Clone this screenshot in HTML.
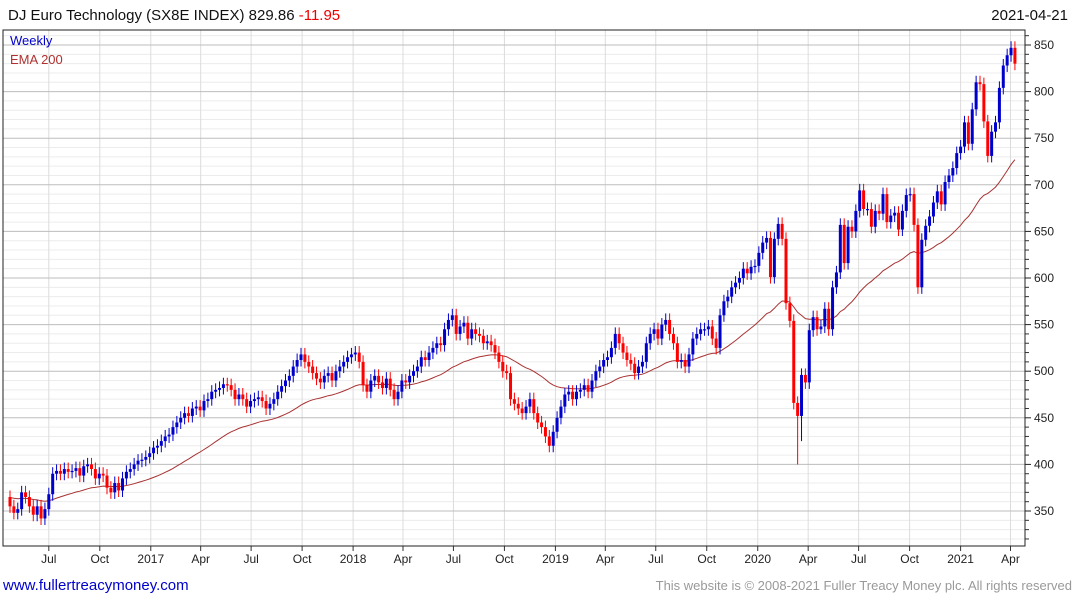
<!DOCTYPE html>
<html><head><meta charset="utf-8"><style>
body{margin:0;background:#fff;width:1075px;height:600px;overflow:hidden;font-family:"Liberation Sans",Arial,sans-serif}
svg{position:absolute;left:0;top:0}
</style></head><body>
<svg id="chart" width="1075" height="600" xmlns="http://www.w3.org/2000/svg">
<text x="8" y="20" font-size="15" fill="#111">DJ Euro Technology (SX8E INDEX) 829.86 <tspan fill="#e00">-11.95</tspan></text>
<text x="1068" y="20" font-size="15" fill="#111" text-anchor="end">2021-04-21</text>
<g id="grid"></g><g id="ema"></g><g id="candles"></g><g id="axes"></g>
<rect x="3" y="30" width="1022" height="516" fill="none" stroke="#222" stroke-width="1"/>
<text x="10" y="45" font-size="13" fill="#0000cc">Weekly</text>
<text x="10" y="64" font-size="13" fill="#b03030">EMA 200</text>
<text x="3" y="590" font-size="15" fill="#0000cc">www.fullertreacymoney.com</text>
<text x="1072" y="590" font-size="13" fill="#999" text-anchor="end">This website is © 2008-2021 Fuller Treacy Money plc. All rights reserved</text>
</svg>
<script>
const closes2016=[355,348,352,370,365,355,346,355,342,352,368,390,393,390,395,392,393,396,388,398,400,395,385,390,388,375,370,380,372,385,392,395,400,404,405,408];
const closes2017=[412,418,420,425,430,432,440,445,450,455,452,460,462,458,468,470,478,480,482,486,485,480,470,475,470,462,468,470,472,468,460,465,470,478,484,490,495,505,512,518,510,505,498,492,488,495,498,490,500,505,510,515];
const closes2018=[518,520,510,485,478,490,495,488,482,492,480,470,478,490,488,495,500,505,515,512,520,525,530,528,545,555,560,540,548,552,535,545,540,538,530,532,528,520,510,500,498,470,465,460,455,462,470,455,445,440,430,420];
const closes2019=[435,450,462,475,478,470,478,480,485,478,490,500,505,512,515,525,540,530,520,512,508,498,505,510,530,540,545,535,550,555,540,530,510,512,505,518,535,540,545,545,548,535,525,560,575,580,590,595,600,610,605,612];
const closes2020=[613,627,638,643,601,642,658,642,573,554,466,452,496,488,544,558,545,548,567,545,590,606,657,616,655,650,672,694,674,674,655,672,669,690,660,667,670,652,672,689,690,657,590,641,656,666,681,693,679,703,710,718,734,741,767,744,781,810,808,768,731,757,767,804,828,839,847,830];
const yTicks=[350,400,450,500,550,600,650,700,750,800,850];
const xTickLabels=["Jul","Oct","2017","Apr","Jul","Oct","2018","Apr","Jul","Oct","2019","Apr","Jul","Oct","2020","Apr","Jul","Oct","2021","Apr"];
const xTickDates=["2016-07-01","2016-10-01","2017-01-01","2017-04-01","2017-07-01","2017-10-01","2018-01-01","2018-04-01","2018-07-01","2018-10-01","2019-01-01","2019-04-01","2019-07-01","2019-10-01","2020-01-01","2020-04-01","2020-07-01","2020-10-01","2021-01-01","2021-04-01"];
const lowOverrides={203:400,204:425,209:540};
const emaSeed=365;

const closes=[].concat(closes2016,closes2017,closes2018,closes2019,closes2020);
const NS="http://www.w3.org/2000/svg";
const X0=10,DX=3.88,startDate=new Date("2016-04-22");
function x(i){return X0+i*DX;}
function xDate(s){return X0+((new Date(s)-startDate)/864e5/7)*DX;}
function y(v){return 45+(850-v)*0.932;}
function mk(tag,attrs,parent){const e=document.createElementNS(NS,tag);for(const k in attrs)e.setAttribute(k,attrs[k]);parent.appendChild(e);return e;}
const grid=document.getElementById('grid'),axes=document.getElementById('axes');
for(let v=320;v<=860;v+=10){
  if(v%50===0)continue;
  const l=mk('line',{x1:3,x2:1025,y1:y(v),y2:y(v),stroke:'#ececec'},grid);
  
  
  const t=mk('line',{x1:1025,x2:1029,y1:y(v),y2:y(v),stroke:'#333'},axes);
  
  
}
xTickDates.forEach((d,i)=>{
  const xx=xDate(d);
  const l=mk('line',{x1:xx,x2:xx,y1:30,y2:546,stroke:'#dcdcdc'},grid);
  
  
  const tk=mk('line',{x1:xx,x2:xx,y1:546,y2:551,stroke:'#333'},axes);
  
  
  const t=mk('text',{x:xx,y:563,'font-size':12,fill:'#222','text-anchor':'middle'},axes);
  t.textContent=xTickLabels[i];
  
  
});
yTicks.forEach(v=>{
  const l=mk('line',{x1:3,x2:1025,y1:y(v),y2:y(v),stroke:'#bdbdbd'},grid);
  
  
  const tk=mk('line',{x1:1025,x2:1031,y1:y(v),y2:y(v),stroke:'#222'},axes);
  
  
  const t=mk('text',{x:1034,y:y(v)+4,'font-size':12,fill:'#222'},axes);
  t.textContent=v;
  
  
});
const k=2/41;let e=emaSeed,pts=[];
closes.forEach((c,i)=>{e=e+k*(c-e);pts.push(x(i).toFixed(1)+','+y(e).toFixed(1));});
const emaLine=mk('polyline',{points:pts.join(' '),fill:'none',stroke:'#a83232','stroke-width':1},document.getElementById('ema'));


const cg=document.getElementById('candles');
closes.forEach((c,i)=>{
  const o=i===0?365:closes[i-1];
  const up=c>=o,col=up?'#0000cc':'#ff0000';
  const hi=Math.max(o,c)+7,lo=(lowOverrides[i]!==undefined)?lowOverrides[i]:Math.min(o,c)-7;
  const g=mk('g',{},cg);
  
  
  mk('line',{x1:x(i),x2:x(i),y1:y(hi),y2:y(lo),stroke:col,'stroke-width':1},g);
  const top=y(Math.max(o,c)),h=Math.max(1.2,y(Math.min(o,c))-top);
  mk('rect',{x:x(i)-1.5,y:top,width:3,height:h,fill:col},g);
});
</script>
</body></html>
